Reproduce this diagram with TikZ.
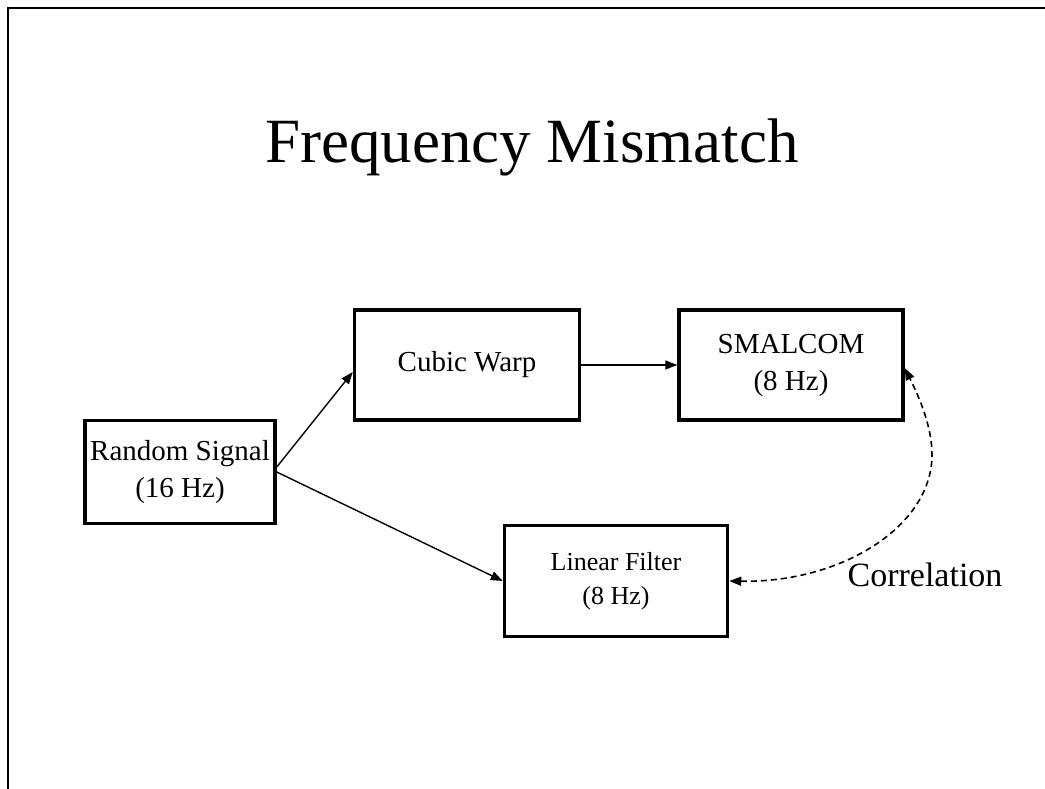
\documentclass[tikz,border=0pt]{standalone}
\usepackage{fontspec}
\setmainfont{Liberation Serif}
\usetikzlibrary{arrows.meta}

\tikzset{
  block/.style={draw, line width=3.5pt, inner sep=0pt, align=center,
    font=\fontsize{29}{37}\selectfont},
  flow/.style={line width=1.4pt, -{Triangle[length=12pt,width=9pt]}},
  corr/.style={line width=1.6pt, dash pattern=on 6pt off 4pt,
    {Triangle[length=12pt,width=9pt]}-{Triangle[length=12pt,width=9pt]}}
}

\begin{document}
\begin{tikzpicture}[x=1pt,y=1pt]
\useasboundingbox (0,0) rectangle (1045,-789);
% slide frame
\draw[line width=1.5pt] (8,-789) -- (8,-8) -- (1045,-8);
% title
\node[anchor=base, font=\fontsize{63}{70}\selectfont] (title) at (532,-163) {Frequency Mismatch};
% blocks
\node[block, minimum width=190pt, minimum height=103pt] (rand) at (180,-472) {Random Signal\\(16 Hz)};
\node[block, minimum width=225pt, minimum height=110pt] (warp) at (467,-365) {Cubic Warp};
\node[block, minimum width=224pt, minimum height=110pt] (smal) at (791,-365) {SMALCOM\\(8 Hz)};
\node[block, minimum width=223pt, minimum height=111pt, font=\fontsize{26}{34}\selectfont] (lin) at (616,-581) {Linear Filter\\(8 Hz)};
\node[anchor=base, font=\fontsize{34}{40}\selectfont] (corrlabel) at (925,-586) {Correlation};
% signal flow
\draw[flow] ([yshift=5pt]rand.east) -- ([yshift=-7pt]warp.west);
\draw[flow] (rand.east) -- (lin.west);
\draw[flow] (warp.east) -- (smal.west);
% correlation between the two outputs
\draw[corr] (lin.east) .. controls (842,-583) and (932,-526) .. (932,-455)
  .. controls (932,-425) and (918,-395) .. ([yshift=-3pt]smal.east);
\end{tikzpicture}
\end{document}
